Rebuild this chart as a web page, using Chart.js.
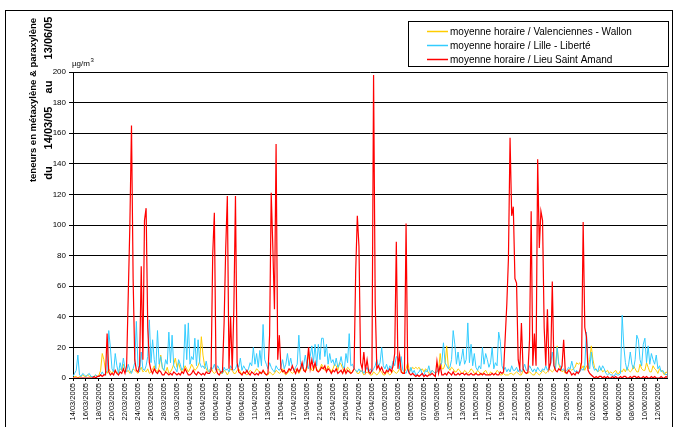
<!DOCTYPE html>
<html>
<head>
<meta charset="utf-8">
<script src="https://cdn.jsdelivr.net/npm/chart.js@4/dist/chart.umd.min.js"></script>
<style>
  html, body { margin: 0; padding: 0; background: #fff; }
  #wrap { width: 674px; height: 427px; position: relative; }
</style>
</head>
<body>
<div id="wrap"><canvas id="c" width="674" height="427"></canvas></div>
<script>
// Hourly averages, sampled every 6 hours (4 values per day), from 14/03/2005.
const tickLabels = [
  '14/03/2005','16/03/2005','18/03/2005','20/03/2005','22/03/2005','24/03/2005','26/03/2005','28/03/2005',
  '30/03/2005','01/04/2005','03/04/2005','05/04/2005','07/04/2005','09/04/2005','11/04/2005','13/04/2005',
  '15/04/2005','17/04/2005','19/04/2005','21/04/2005','23/04/2005','25/04/2005','27/04/2005','29/04/2005',
  '01/05/2005','03/05/2005','05/05/2005','07/05/2005','09/05/2005','11/05/2005','13/05/2005','15/05/2005',
  '17/05/2005','19/05/2005','21/05/2005','23/05/2005','25/05/2005','27/05/2005','29/05/2005','31/05/2005',
  '02/06/2005','04/06/2005','06/06/2005','08/06/2005','10/06/2005','12/06/2005'
];

const seriesNames = [
  'moyenne horaire / Valenciennes - Wallon',
  'moyenne horaire / Lille - Liberté',
  'moyenne horaire / Lieu Saint Amand'
];

const valenciennes = [
  0,1,1,0, 1,1,2,1, 1,2,1,1, 1,1,2,1, 2,5,16,12, 5,3,6,4, 3,5,4,3, 4,6,5,9,
  6,4,5,3, 4,6,5,4, 3,5,7,4, 5,4,6,3, 4,6,8,5, 4,7,15,6, 5,4,7,3, 4,6,9,13,
  7,10,6,4, 5,8,6,4, 6,9,7,5, 6,8,11,27, 15,8,6,4, 5,7,4,3, 4,6,5,3, 3,5,4,2,
  4,6,5,3, 3,5,6,4, 2,4,3,2, 3,5,4,3, 4,6,5,3, 3,5,4,2, 2,4,3,2, 3,5,4,3,
  4,6,3,2, 3,5,4,3, 4,6,5,3, 5,8,6,4, 6,17,8,5, 5,8,6,4, 6,9,7,5, 5,8,6,4,
  6,9,8,5, 10,9,6,4, 5,7,6,3, 4,6,5,3, 3,5,4,2, 3,4,3,2, 2,4,3,2, 3,5,4,2,
  2,4,3,2, 3,5,4,3, 4,6,5,3, 4,6,10,5, 5,7,6,7, 6,7,5,6, 4,6,5,3, 3,5,4,3,
  4,5,16,6, 6,9,21,7, 5,7,6,4, 4,6,5,3, 3,5,4,3, 4,6,5,3, 3,5,4,2, 3,4,5,3,
  2,4,3,2, 3,5,4,2, 2,3,2,2, 2,3,3,2, 3,4,3,2, 2,5,4,3, 3,4,3,2, 2,4,3,2,
  3,5,4,3, 4,6,5,4, 5,8,21,9, 6,4,5,3, 4,5,6,5, 6,7,10,9, 10,6,8,5, 8,6,12,21,
  12,7,5,4, 5,6,4,5, 4,5,3,4, 3,4,5,3, 3,5,4,6, 4,7,5,4, 5,8,6,4, 4,9,6,5,
  5,10,7,4, 4,8,6,5, 3,6,5,4, 2,4,3,2
];

const lille = [
  1,3,5,15, 2,1,3,2, 1,2,3,1, 1,1,2,1, 1,2,4,2, 3,5,31,20, 6,4,16,8, 3,10,5,13,
  6,4,9,5, 3,6,10,37, 8,4,17,6, 5,8,14,38, 10,25,12,6, 31,9,14,7, 5,12,9,30, 10,28,8,6,
  4,12,9,5, 7,35,12,36, 9,14,12,26, 8,25,10,7, 8,6,11,5, 4,7,6,9, 5,8,6,4, 3,7,5,6,
  4,8,6,5, 6,9,7,13, 5,8,6,4, 6,10,8,20, 9,16,7,18, 8,35,12,9, 6,10,7,5, 4,8,6,5,
  7,12,6,9, 16,8,13,7, 5,7,9,28, 10,6,9,15, 8,6,14,21, 10,22,8,22, 12,26,26,14, 22,9,16,10,
  12,8,13,7, 9,14,8,6, 16,10,29,8, 9,6,5,4, 6,4,5,3, 5,7,4,6, 4,6,8,12, 7,10,20,8,
  6,9,5,8, 6,11,8,14, 13,6,14,5, 4,3,6,3, 7,3,5,2, 3,4,6,2, 2,5,4,8, 3,5,4,3,
  4,6,8,10, 23,10,8,6, 7,12,31,22, 9,17,8,12, 19,9,12,36, 10,22,8,16, 7,5,8,6, 20,9,16,12,
  7,10,20,6, 10,8,30,24, 8,5,7,4, 6,4,8,5, 5,7,4,6, 4,6,9,5, 5,8,6,4, 6,4,7,5,
  4,6,5,8, 5,7,9,17, 8,6,20,9, 8,5,6,4, 5,7,6,11, 6,4,5,3, 4,6,5,8, 30,10,6,17,
  8,5,6,4, 8,5,8,6, 3,2,3,2, 2,1,3,2, 2,3,41,21, 10,5,9,17, 9,6,12,28, 25,12,8,22,
  26,10,21,9, 16,12,9,15, 6,8,4,5, 3,2,3,1
];

const saintAmand = [
  0,0,0,0, 0,0,0,0, 0,0,0,0, 0,1,0,1, 1,2,1,2, 2,29,4,2, 3,2,5,3, 2,4,3,6,
  3,8,54,100, 165,65,12,5, 4,8,73,12, 103,111,33,10, 5,3,6,4, 3,5,4,2, 2,4,3,2, 3,2,4,3,
  2,3,2,4, 3,6,4,2, 2,3,5,3, 2,4,3,2, 3,2,4,3, 3,5,81,108, 6,3,2,4, 4,36,85,119,
  6,40,5,45, 119,10,4,3, 2,4,3,5, 3,2,4,3, 2,3,2,4, 3,5,3,2, 3,28,121,85, 45,153,12,28,
  6,4,5,3, 4,6,5,8, 5,3,6,4, 6,10,5,4, 8,20,6,12, 6,10,5,4, 5,7,6,8, 4,6,5,3,
  5,4,6,3, 4,5,3,6, 3,5,4,3, 4,6,70,106, 86,10,6,17, 5,12,4,3, 5,198,49,6, 8,5,7,4,
  3,5,4,6, 4,8,16,89, 6,15,4,3, 3,101,6,3, 2,3,2,1, 2,1,2,3, 1,2,1,2, 2,3,2,1,
  11,3,8,2, 2,3,2,4, 3,2,4,2, 2,3,2,3, 3,2,3,2, 2,3,2,2, 3,2,2,3, 2,3,2,2,
  2,2,3,2, 3,2,2,4, 3,4,26,48, 78,157,106,112, 65,62,12,6, 36,6,4,3, 4,25,109,8, 29,8,143,85,
  109,103,33,8, 45,6,10,63, 8,5,4,6, 5,8,25,4, 3,5,4,2, 3,2,4,3, 5,10,102,33, 27,5,3,2,
  1,0,1,0, 1,1,0,1, 0,1,0,0, 1,0,1,0, 0,1,0,1, 1,0,0,1, 0,1,1,0, 1,0,0,1,
  0,1,0,0, 1,0,1,0, 0,0,1,0, 0,1,0,0
];

const yTicks = [0, 20, 40, 60, 80, 100, 120, 140, 160, 180, 200];
const unitLabel = 'µg/m';
const titleLine1 = 'teneurs en métaxylène & paraxylène';
const titleLine2 = ['du', '14/03/05', 'au', '13/06/05'];

const STEPS_PER_DAY = 4;
const FONT = '"Liberation Sans", Arial, sans-serif';
const colors = ['#FFCC00', '#33CCFF', '#FF0000'];

const toPoints = arr => arr.map((v, i) => ({ x: i / STEPS_PER_DAY, y: v }));

const decor = {
  id: 'decor',
  afterDraw(chart) {
    const ctx = chart.ctx;
    const a = chart.chartArea;
    ctx.save();

    // right edge of the plot area
    ctx.strokeStyle = '#808080';
    ctx.lineWidth = 1;
    ctx.beginPath();
    ctx.moveTo(Math.round(a.right) + 0.5, a.top);
    ctx.lineTo(Math.round(a.right) + 0.5, a.bottom);
    ctx.stroke();

    // outer frame
    ctx.strokeStyle = '#000';
    ctx.strokeRect(5.5, 10.5, 667, 430);

    // unit above the value axis
    ctx.fillStyle = '#000';
    ctx.textAlign = 'left';
    ctx.textBaseline = 'alphabetic';
    ctx.font = '8px ' + FONT;
    ctx.fillText(unitLabel, 72, 66);
    const w = ctx.measureText(unitLabel).width;
    ctx.font = '6px ' + FONT;
    ctx.fillText('3', 72 + w + 0.5, 62);

    // value axis title, two rotated lines
    ctx.save();
    ctx.translate(33, 100);
    ctx.rotate(-Math.PI / 2);
    ctx.textAlign = 'center';
    ctx.textBaseline = 'middle';
    ctx.font = 'bold 9.5px ' + FONT;
    ctx.fillText(titleLine1, 0, 0);
    ctx.restore();

    const line2Pos = [173, 128, 87, 38];
    ctx.font = 'bold 11px ' + FONT;
    titleLine2.forEach((t, i) => {
      ctx.save();
      ctx.translate(49, line2Pos[i]);
      ctx.rotate(-Math.PI / 2);
      ctx.textAlign = 'center';
      ctx.textBaseline = 'middle';
      ctx.fillText(t, 0, 0);
      ctx.restore();
    });

    // legend
    const lx = 408.5, ly = 21.5, lw = 260, lh = 45;
    ctx.fillStyle = '#fff';
    ctx.fillRect(lx, ly, lw, lh);
    ctx.strokeStyle = '#000';
    ctx.strokeRect(lx, ly, lw, lh);
    ctx.font = '10px ' + FONT;
    ctx.textBaseline = 'middle';
    ctx.textAlign = 'left';
    seriesNames.forEach((name, i) => {
      const y = 31.5 + i * 14;
      ctx.strokeStyle = colors[i];
      ctx.lineWidth = 1.5;
      ctx.beginPath();
      ctx.moveTo(427, y);
      ctx.lineTo(448, y);
      ctx.stroke();
      ctx.fillStyle = '#000';
      ctx.fillText(name, 450, y + 0.5);
    });

    ctx.restore();
  }
};

new Chart(document.getElementById('c'), {
  type: 'line',
  data: {
    datasets: [
      { label: seriesNames[0], data: toPoints(valenciennes), borderColor: colors[0], borderWidth: 1, order: 2 },
      { label: seriesNames[1], data: toPoints(lille), borderColor: colors[1], borderWidth: 1, order: 1 },
      { label: seriesNames[2], data: toPoints(saintAmand), borderColor: colors[2], borderWidth: 1.2, order: 0 }
    ]
  },
  options: {
    responsive: false,
    animation: false,
    devicePixelRatio: 1,
    events: [],
    elements: { point: { radius: 0 }, line: { tension: 0, fill: false } },
    layout: { padding: { top: 72, right: 7, left: 0, bottom: 0 } },
    plugins: { legend: { display: false }, tooltip: { enabled: false } },
    scales: {
      x: {
        type: 'linear',
        min: 0,
        max: 91.4,
        afterBuildTicks: s => { s.ticks = tickLabels.map((_, i) => ({ value: i * 2 })); },
        afterFit: s => { s.height = 49; },
        ticks: {
          autoSkip: false,
          maxRotation: 90,
          minRotation: 90,
          padding: 2,
          color: '#000',
          font: { size: 7.5, family: FONT },
          callback: v => tickLabels[Math.round(v / 2)] || ''
        },
        grid: { drawOnChartArea: false, drawTicks: true, tickLength: 3, color: '#000' },
        border: { color: '#000', width: 1 }
      },
      y: {
        min: 0,
        max: 200,
        afterBuildTicks: s => { s.ticks = yTicks.map(v => ({ value: v })); },
        afterFit: s => { s.width = 73; },
        ticks: { color: '#000', padding: 3, font: { size: 8, family: FONT } },
        grid: { color: '#000', lineWidth: 1, tickLength: 4 },
        border: { color: '#000', width: 1 }
      }
    }
  },
  plugins: [decor]
});
</script>
</body>
</html>
